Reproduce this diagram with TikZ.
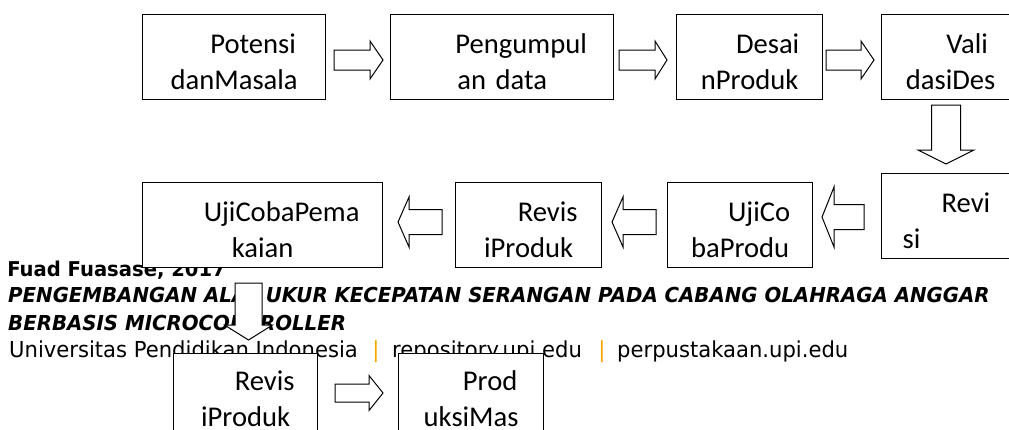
\documentclass[tikz,border=0pt]{standalone}
\usepackage{fontspec}
\usetikzlibrary{calc}
\newfontfamily\boxfont{Carlito}
\newfontfamily\footfont[FakeStretch=0.96]{DejaVu Sans}
\definecolor{upiorange}{RGB}{246,168,0}
\newcommand{\blockarr}[5]{%
  \path ($(#2)!#5!(#1)$) coordinate (tmpB);
  \draw[blk] ($(#1)!#3!90:(#2)$) -- ($(tmpB)!#3!90:(#2)$) -- ($(tmpB)!#4!90:(#2)$) -- (#2)
    -- ($(tmpB)!#4!-90:(#2)$) -- ($(tmpB)!#3!-90:(#2)$) -- ($(#1)!#3!-90:(#2)$) -- cycle;}
\tikzset{
  stepbox/.style={draw=black, line width=1.3pt, fill=white, rectangle, anchor=north west,
    inner sep=0pt, minimum height=85pt, align=center,
    font=\boxfont\fontsize{28.6}{36}\selectfont},
  blk/.style={draw=black, line width=1pt, fill=white, line join=miter},
  footb/.style={inner sep=0pt, anchor=base east, font=\footfont\bfseries\fontsize{20.4}{22}\selectfont},
  footbi/.style={inner sep=0pt, anchor=base west, font=\footfont\bfseries\itshape\fontsize{20.6}{22}\selectfont},
  footr/.style={inner sep=0pt, font=\footfont\fontsize{22}{24}\selectfont},
}
\begin{document}
\begin{tikzpicture}[x=1pt,y=-1pt]
\useasboundingbox (0,0) rectangle (1009,429);
\clip (0,0) rectangle (1009,429);
% footer text (behind the boxes)
\node[footb] (fa) at (226,276) {Fuad Fuasase, 2017};
\node[footbi] (fb) at (8,302) {PENGEMBANGAN ALAT UKUR KECEPATAN SERANGAN PADA CABANG OLAHRAGA ANGGAR};
\node[footbi] (fc) at (8,330) {BERBASIS MICROCONTROLLER};
\node[footr, anchor=base east] (fd) at (358,357) {Universitas Pendidikan Indonesia};
\node[footr, anchor=base, text=upiorange] (fe) at (376,357) {|};
\node[footr, anchor=base west] (ff) at (392,357) {repository.upi.edu};
\node[footr, anchor=base, text=upiorange] (fg) at (602,357) {|};
\node[footr, anchor=base west] (fh) at (617,357) {perpustakaan.upi.edu};
% top row
\node[stepbox, minimum width=183pt, text width=183pt] (p1) at (142,14)
  {\rule{0pt}{39pt}\hspace*{38pt}Potensi\\danMasala\rule[-10pt]{0pt}{10pt}};
\node[stepbox, minimum width=223pt, text width=223pt] (p2) at (390,14)
  {\rule{0pt}{39pt}\hspace*{38pt}Pengumpul\\an data\rule[-10pt]{0pt}{10pt}};
\node[stepbox, minimum width=146pt, text width=146pt] (p3) at (676,14)
  {\rule{0pt}{39pt}\hspace*{36pt}Desai\\nProduk\rule[-10pt]{0pt}{10pt}};
\node[stepbox, minimum width=138pt, text width=138pt] (p4) at (881,14)
  {\rule{0pt}{39pt}\hspace*{33pt}Vali\\dasiDes\rule[-10pt]{0pt}{10pt}};
% middle row
\node[stepbox, align=left, minimum width=140pt, text width=140pt] (p5) at (881,173)
  {\rule{0pt}{39pt}\hspace*{60pt}Revi\\\hspace*{21pt}si\rule[-10pt]{0pt}{10pt}};
\node[stepbox, minimum width=145pt, text width=145pt] (p6) at (667,182)
  {\rule{0pt}{39pt}\hspace*{38pt}UjiCo\\baProdu\rule[-10pt]{0pt}{10pt}};
\node[stepbox, minimum width=146pt, text width=146pt] (p7) at (455,182)
  {\rule{0pt}{39pt}\hspace*{38pt}Revis\\iProduk\rule[-10pt]{0pt}{10pt}};
\node[stepbox, minimum width=240pt, text width=240pt] (p8) at (142,182)
  {\rule{0pt}{39pt}\hspace*{38pt}UjiCobaPema\\kaian\rule[-10pt]{0pt}{10pt}};
% bottom row
\node[stepbox, minimum width=144pt, text width=144pt] (p9) at (173,353)
  {\rule{0pt}{37pt}\hspace*{38pt}Revis\\iProduk\rule[-12pt]{0pt}{12pt}};
\node[stepbox, minimum width=145pt, text width=145pt] (p10) at (398,353)
  {\rule{0pt}{37pt}\hspace*{38pt}Prod\\uksiMas\rule[-12pt]{0pt}{12pt}};
% block arrows
\coordinate (a1t) at (334,60);   \coordinate (a1h) at (383,60);
\coordinate (a2t) at (619,60);   \coordinate (a2h) at (667,60);
\coordinate (a3t) at (826,60);   \coordinate (a3h) at (874,60);
\coordinate (a4t) at (946,105);  \coordinate (a4h) at (946,164);
\coordinate (a5t) at (864,217);  \coordinate (a5h) at (822,217);
\coordinate (a6t) at (656,222);  \coordinate (a6h) at (612,222);
\coordinate (a7t) at (442,222);  \coordinate (a7h) at (398,222);
\coordinate (a8t) at (248.5,283);\coordinate (a8h) at (248.5,340);
\coordinate (a9t) at (335,393);  \coordinate (a9h) at (383,393);
\blockarr{a1t}{a1h}{10pt}{19pt}{13pt}
\blockarr{a2t}{a2h}{10pt}{19pt}{12pt}
\blockarr{a3t}{a3h}{10pt}{19pt}{13pt}
\blockarr{a4t}{a4h}{14.5pt}{28pt}{14pt}
\blockarr{a5t}{a5h}{12.5pt}{30pt}{12pt}
\blockarr{a6t}{a6h}{12.5pt}{25pt}{11pt}
\blockarr{a7t}{a7h}{12.5pt}{25pt}{11pt}
\blockarr{a8t}{a8h}{13.5pt}{24pt}{15pt}
\blockarr{a9t}{a9h}{9pt}{17.5pt}{14pt}
\end{tikzpicture}
\end{document}
